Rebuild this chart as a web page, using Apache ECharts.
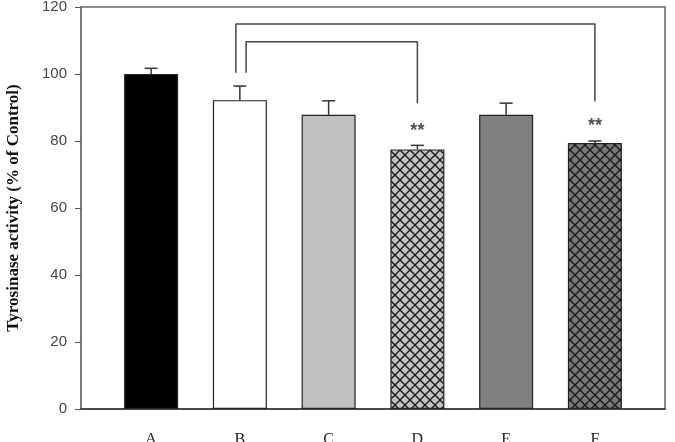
<!DOCTYPE html>
<html>
<head>
    <meta http-equiv="content-type" content="text/html; charset=utf-8">
    <script type="text/javascript" src="https://cdn.jsdelivr.net/npm/echarts@6/dist/echarts.min.js"></script>
    <style>
        body { margin: 0; background: #fff; }
        #main { width: 675px; height: 442px; }
    </style>
</head>
<body>
<div id="main"></div>
<script>
    // 数据
    var categories = ['A', 'B', 'C', 'D', 'E', 'F'];
    var means = [100, 92.2, 87.8, 77.5, 87.8, 79.4];
    var errors = [1.7, 4.2, 4.2, 1.2, 3.5, 0.6];
    var yTicks = [0, 20, 40, 60, 80, 100, 120];
    // 显著性标记
    var starLabels = ['', '', '', '**', '', '**'];
    var starHeights = [0, 0, 0, 83.0, 0, 84.5];
    // 括号线 [x, y]
    var bracketOuter = [[0.955, 100.4], [0.955, 114.9], [5, 114.9], [5, 91.9]];
    var bracketInner = [[1.07, 100.4], [1.07, 109.6], [3, 109.6], [3, 91.3]];

    // 网格填充
    function hatch(base) {
        var s = 10;
        var c = document.createElement('canvas');
        c.width = s; c.height = s;
        var ctx = c.getContext('2d');
        ctx.fillStyle = base;
        ctx.fillRect(0, 0, s, s);
        ctx.strokeStyle = '#1a1a1a';
        ctx.lineWidth = 1.4;
        ctx.beginPath();
        ctx.moveTo(0, 0); ctx.lineTo(s, s);
        ctx.moveTo(s, 0); ctx.lineTo(0, s);
        ctx.stroke();
        return { image: c, repeat: 'repeat' };
    }

    var fills = ['#000000', '#ffffff', '#c0c0c0', hatch('#c4c4c4'), '#808080', hatch('#7a7a7a')];

    var barData = means.map(function (v, i) {
        return { value: [i, v], itemStyle: { color: fills[i] } };
    });

    var errData = means.map(function (v, i) { return [i, v, v + errors[i]]; });

    var starData = [];
    starLabels.forEach(function (s, i) {
        if (s) starData.push({ value: [i, starHeights[i]], label: { formatter: s } });
    });

    var myChart = echarts.init(document.getElementById('main'));
    var option = {
        animation: false,
        grid: {
            left: 81, right: 10, top: 7, bottom: 33,
            outerBoundsMode: 'none',
            containLabel: false,
            show: true, borderColor: '#666', borderWidth: 1.5
        },
        xAxis: {
            type: 'value',
            min: -0.79, max: 5.79,
            splitLine: { show: false },
            axisTick: { show: false },
            axisLine: { onZero: false, lineStyle: { color: '#333', width: 1.5 } },
            axisLabel: {
                customValues: [0, 1, 2, 3, 4, 5],
                formatter: function (v) { return categories[Math.round(v)]; },
                margin: 23,
                fontFamily: 'Liberation Serif',
                fontSize: 16,
                color: '#222'
            }
        },
        yAxis: {
            type: 'value',
            min: 0, max: 120, interval: 20,
            name: 'Tyrosinase activity (% of Control)',
            nameLocation: 'middle',
            nameGap: 59,
            nameTextStyle: {
                fontFamily: 'Liberation Serif',
                fontWeight: 'bold',
                fontSize: 17,
                color: '#111'
            },
            splitLine: { show: false },
            axisLine: { show: true, onZero: false, lineStyle: { color: '#777', width: 1.5 } },
            axisTick: { show: true, length: 6, lineStyle: { color: '#555' } },
            axisLabel: {
                fontFamily: 'Liberation Sans',
                fontSize: 15,
                color: '#444',
                margin: 14,
                customValues: yTicks
            }
        },
        series: [
            {
                type: 'bar',
                barWidth: 54,
                data: barData,
                itemStyle: { borderColor: '#222', borderWidth: 1.2 }
            },
            {
                type: 'custom',
                data: errData,
                z: 3,
                renderItem: function (params, api) {
                    var x = api.value(0);
                    var lo = api.coord([x, api.value(1)]);
                    var hi = api.coord([x, api.value(2)]);
                    var style = { stroke: '#333', lineWidth: 1.5 };
                    return {
                        type: 'group',
                        children: [
                            { type: 'line', shape: { x1: lo[0], y1: lo[1], x2: hi[0], y2: hi[1] }, style: style },
                            { type: 'line', shape: { x1: hi[0] - 6.5, y1: hi[1], x2: hi[0] + 6.5, y2: hi[1] }, style: style }
                        ]
                    };
                }
            },
            {
                type: 'line',
                data: bracketOuter,
                symbol: 'none',
                lineStyle: { color: '#444', width: 1.5 }
            },
            {
                type: 'line',
                data: bracketInner,
                symbol: 'none',
                lineStyle: { color: '#444', width: 1.5 }
            },
            {
                type: 'scatter',
                data: starData,
                symbolSize: 0,
                label: {
                    show: true,
                    position: 'inside',
                    fontFamily: 'Liberation Sans',
                    fontWeight: 'bold',
                    fontSize: 18,
                    color: '#222'
                }
            }
        ]
    };
    myChart.setOption(option);
</script>
</body>
</html>
